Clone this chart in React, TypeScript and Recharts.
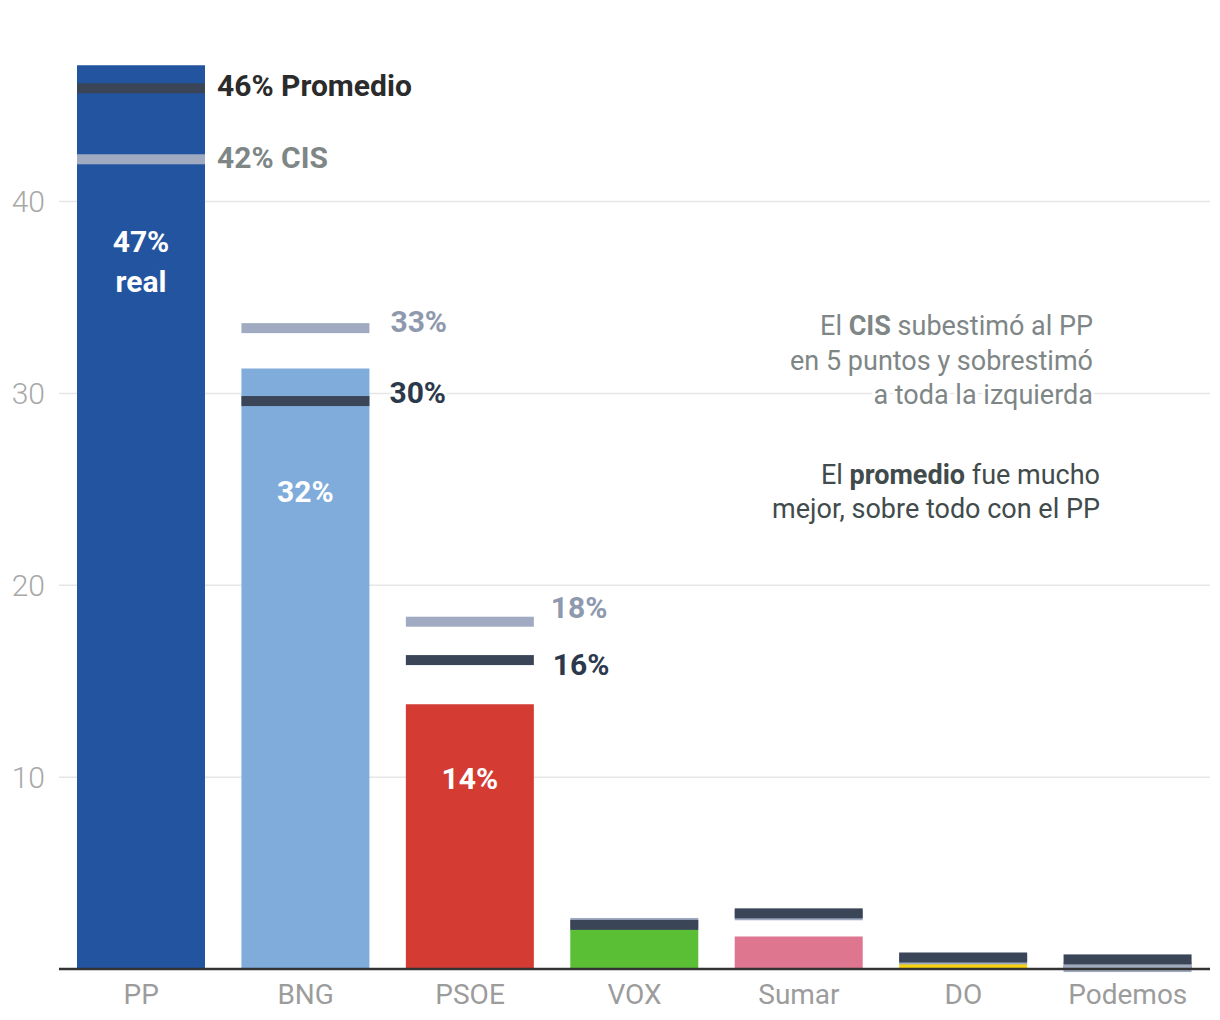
import React from 'react';
import { ComposedChart, Bar, XAxis, YAxis, CartesianGrid, LabelList, Cell } from 'recharts';

// Galicia: resultado real vs CIS vs promedio de encuestas
const parties = ['PP', 'BNG', 'PSOE', 'VOX', 'Sumar', 'DO', 'Podemos'];
const realVote = [47.1, 31.3, 13.8, 2.1, 1.7, 0.3, 0.2];
const cisVote = [42.2, 33.4, 18.1, 2.4, 2.8, 0.5, 0.1];
const avgVote = [45.9, 29.6, 16.1, 2.3, 2.9, 0.6, 0.5];
const realText = [['47%', 'real'], ['32%'], ['14%'], [], [], [], []];
const cisText = ['42% CIS', '33%', '18%', '', '', '', ''];
const avgText = ['46% Promedio', '30%', '16%', '', '', '', ''];
const yTicks = [10, 20, 30, 40];

const partyColors = ['#2354a0', '#80acdc', '#d33b33', '#5bbf35', '#de7690', '#f6d311', '#6c2b6f'];
const CIS_COLOR = '#a0abc1';
const AVG_COLOR = '#3a4658';
const FONT = 'Roboto, "Noto Sans", sans-serif';

// hand placed labels: offsets from bar top / marker centre
const innerOffset = [187, 134, 85];
const cisNudge = [{ dx: 12, dy: 9 }, { dx: 21, dy: 4 }, { dx: 17, dy: -4 }];
const avgNudge = [{ dx: 12, dy: 8 }, { dx: 20, dy: 2 }, { dx: 19, dy: 15 }];

const data = parties.map((party, i) => ({
  party,
  real: realVote[i],
  cis: cisVote[i],
  avg: avgVote[i],
}));

const halo = { stroke: '#fff', strokeWidth: 6, strokeLinejoin: 'round' as const, paintOrder: 'stroke' as const };

const markerShape = (color: string) => (props: any) => {
  const { x, y, width } = props;
  return <rect x={x} y={y - 5} width={width} height={10} fill={color} />;
};

const box = (props: any) => {
  const vb = props.viewBox && props.viewBox.width != null ? props.viewBox : props;
  return { x: Number(vb.x), y: Number(vb.y), width: Number(vb.width) };
};

const sideLabel = (texts: string[], nudges: { dx: number; dy: number }[], firstColor: string, color: string) =>
  (props: any) => {
    const i = props.index;
    if (!texts[i]) return null;
    const { x, y, width } = box(props);
    return (
      <text
        x={x + width + nudges[i].dx}
        y={y + nudges[i].dy}
        fontSize={30}
        fontWeight={700}
        fontFamily={FONT}
        fill={i === 0 ? firstColor : color}
        style={halo}
      >
        {texts[i]}
      </text>
    );
  };

const innerLabel = (props: any) => {
  const i = props.index;
  const lines = realText[i];
  if (!lines || !lines.length) return null;
  const { x, y, width } = box(props);
  return (
    <g>
      {lines.map((t, k) => (
        <text
          key={t}
          x={x + width / 2}
          y={y + innerOffset[i] + k * 40}
          textAnchor="middle"
          fontSize={30}
          fontWeight={700}
          fontFamily={FONT}
          fill="#fff"
        >
          {t}
        </text>
      ))}
    </g>
  );
};

const Notes: React.FC = () => (
  <svg width={1204} height={1010} style={{ position: 'absolute', left: 0, top: 0, pointerEvents: 'none' }}>
    <g fontFamily={FONT} fontSize={27} textAnchor="end" style={halo}>
      <text x={1085} y={327} fill="#7e8686">
        El <tspan fontWeight={700}>CIS</tspan> subestimó al PP
      </text>
      <text x={1085} y={361.5} fill="#7e8686">en 5 puntos y sobrestimó</text>
      <text x={1085} y={396} fill="#7e8686">a toda la izquierda</text>
      <text x={1092} y={476} fill="#414b4b">
        El <tspan fontWeight={700}>promedio</tspan> fue mucho
      </text>
      <text x={1092} y={510} fill="#414b4b">mejor, sobre todo con el PP</text>
    </g>
  </svg>
);

export default function App() {
  return (
    <div style={{ position: 'relative', width: 1204, height: 1010, fontFamily: FONT, background: '#fff' }}>
      <ComposedChart width={1204} height={1010} data={data} margin={{ top: 40, right: 2, bottom: 0, left: 0 }}>
        <CartesianGrid vertical={false} stroke="#e6e6e6" strokeWidth={1.5} horizontalValues={yTicks} />
        <XAxis
          xAxisId="real"
          dataKey="party"
          height={49}
          tickLine={false}
          tickSize={6}
          tickMargin={9}
          axisLine={{ stroke: '#333', strokeWidth: 2.5 }}
          tick={{ fontSize: 28, fill: '#9c9c9c', fontFamily: FONT }}
          interval={0}
        />
        <XAxis xAxisId="cis" dataKey="party" hide height={0} />
        <XAxis xAxisId="avg" dataKey="party" hide height={0} />
        <YAxis
          width={51}
          domain={[0, 48]}
          ticks={yTicks}
          axisLine={false}
          tickLine={false}
          tickSize={6}
          tickMargin={8}
          tick={{ fontSize: 30, fill: '#a8a8a8', fontFamily: FONT, fontWeight: 300 }}
        />
        <Bar xAxisId="real" dataKey="real" barSize={128} isAnimationActive={false}>
          {data.map((d, i) => (
            <Cell key={d.party} fill={partyColors[i]} />
          ))}
          <LabelList dataKey="real" content={innerLabel} />
        </Bar>
        <Bar xAxisId="cis" dataKey="cis" barSize={128} isAnimationActive={false} shape={markerShape(CIS_COLOR)}>
          <LabelList dataKey="cis" content={sideLabel(cisText, cisNudge, '#7e8686', '#8e99ae')} />
        </Bar>
        <Bar xAxisId="avg" dataKey="avg" barSize={128} isAnimationActive={false} shape={markerShape(AVG_COLOR)}>
          <LabelList dataKey="avg" content={sideLabel(avgText, avgNudge, '#2b2b2b', '#2c394c')} />
        </Bar>
      </ComposedChart>
      <Notes />
    </div>
  );
}
